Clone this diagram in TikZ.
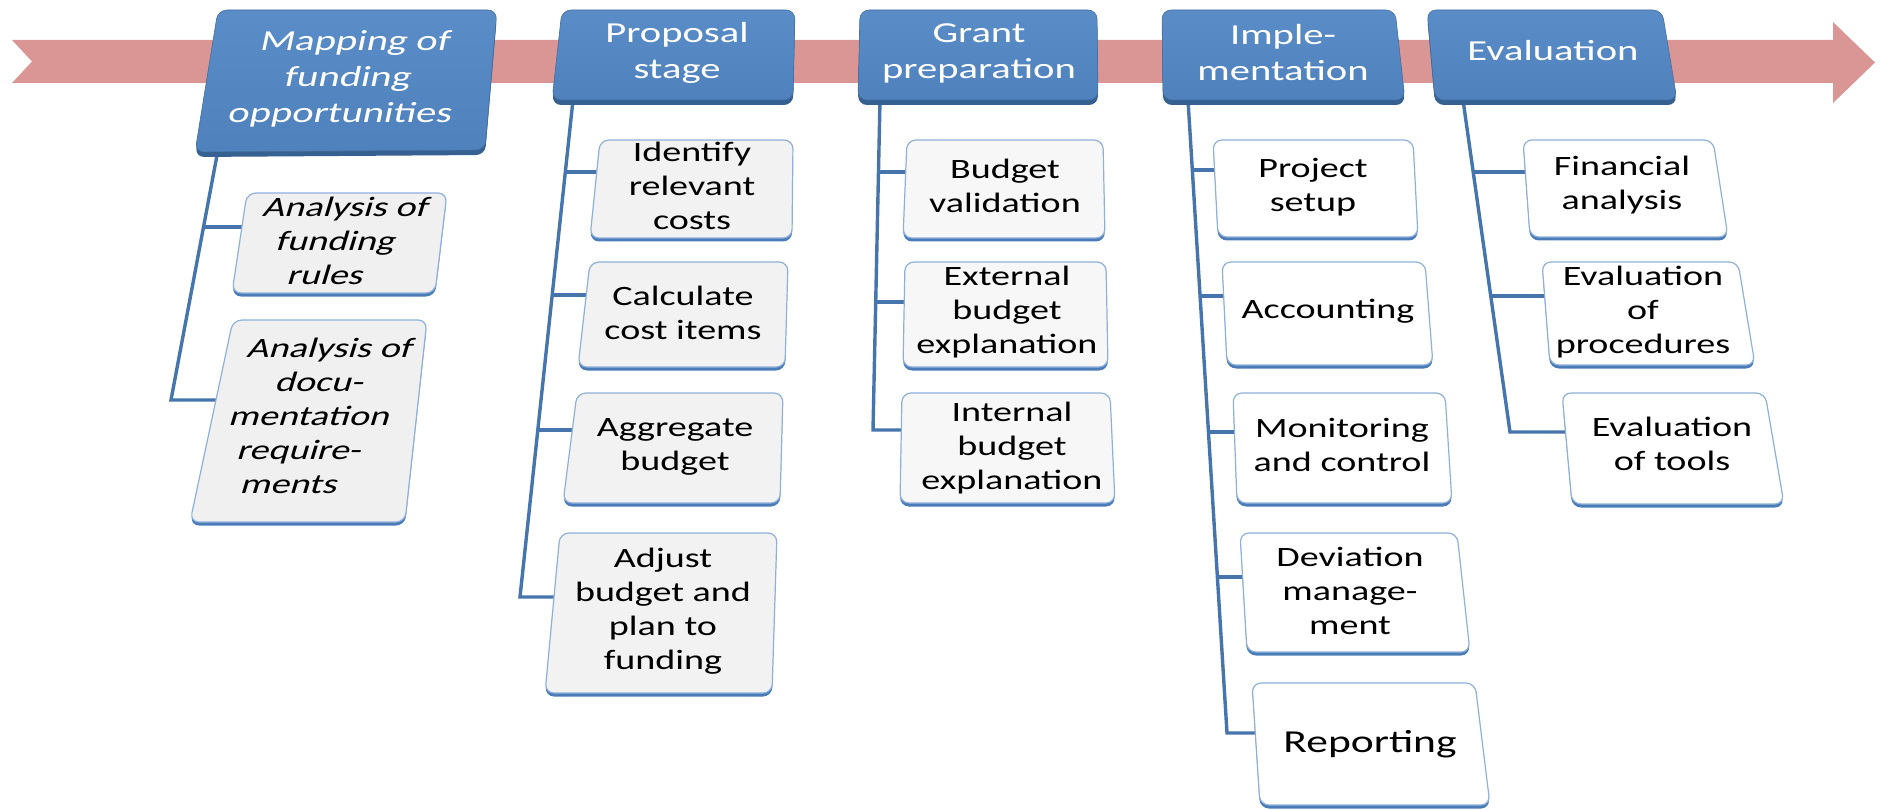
\documentclass[tikz,border=0pt]{standalone}
\usepackage{fontspec}
\setmainfont{Carlito}
\usetikzlibrary{calc}
\definecolor{bandc}{HTML}{D99694}
\definecolor{tblue}{HTML}{4F81BD}
\definecolor{tdark}{HTML}{35608F}
\definecolor{ttop}{HTML}{5A8CC7}
\definecolor{trunkc}{HTML}{4674AD}
\definecolor{cedge}{HTML}{8EB0DA}
\definecolor{cbot}{HTML}{4A7CB8}
\tikzset{
  bandstyle/.style={fill=bandc, draw=none},
  tshadow/.style={fill=tdark, rounded corners=9pt},
  tbody/.style={top color=ttop, bottom color=tblue, draw=tblue!85!black, line width=0.6pt, rounded corners=9pt},
  ttext/.style={text=white, font=\fontsize{29}{36}\selectfont, align=center, xscale=1.4, transform shape, inner sep=0pt},
  cshadow/.style={fill=cbot, rounded corners=9pt},
  cbody/.style={fill=#1, draw=cedge, line width=1.2pt, rounded corners=9pt},
  ctext/.style={font=\fontsize{28}{34}\selectfont, align=center, xscale=1.36, transform shape, inner sep=0pt, text=black},
  trunkline/.style={draw=trunkc, line width=3.4pt},
}
\newcommand\mkbox[6]{%
  \coordinate (#1-tl) at (#2);
  \coordinate (#1-tr) at (#3);
  \coordinate (#1-br) at (#4);
  \coordinate (#1-bl) at (#5);
  \path[cshadow] ([yshift=-3.5pt]#1-tl) -- ([yshift=-3.5pt]#1-tr) -- ([yshift=-3.5pt]#1-br) -- ([yshift=-3.5pt]#1-bl) -- cycle;
  \path[cbody=#6] (#1-tl) -- (#1-tr) -- (#1-br) -- (#1-bl) -- cycle;
}
\newcommand\mktitle[5]{%
  \coordinate (#1-tl) at (#2);
  \coordinate (#1-tr) at (#3);
  \coordinate (#1-br) at (#4);
  \coordinate (#1-bl) at (#5);
  \path[tshadow] ([yshift=-5pt]#1-tl) -- ([yshift=-5pt]#1-tr) -- ([yshift=-5pt]#1-br) -- ([yshift=-5pt]#1-bl) -- cycle;
  \path[tbody] (#1-tl) -- (#1-tr) -- (#1-br) -- (#1-bl) -- cycle;
}
\begin{document}
\begin{tikzpicture}[x=1pt,y=-1pt]
\useasboundingbox (0,0) rectangle (1881,810);
% timeline arrow
\fill[bandstyle] (12,40) -- (1833,40) -- (1833,22) -- (1875,62.5) -- (1833,103) -- (1833,83) -- (12,83) -- (32,61.5) -- cycle;

% trunk coordinates
\coordinate (k1a) at (218,150); \coordinate (k1b) at (171,400);
\coordinate (k2a) at (573,100); \coordinate (k2b) at (520,597);
\coordinate (k3a) at (880,100); \coordinate (k3b) at (873,430);
\coordinate (k4a) at (1188,100); \coordinate (k4b) at (1227,733);
\coordinate (k5a) at (1463,100); \coordinate (k5b) at (1510,432);
% branch points on trunks
\coordinate (j11) at (204.2,227);
\coordinate (j21) at (565.3,172); \coordinate (j22) at (552.2,295); \coordinate (j23) at (537.8,430);
\coordinate (j31) at (878.5,172); \coordinate (j32) at (875.7,302);
\coordinate (j41) at (1192.3,170); \coordinate (j42) at (1200.1,296); \coordinate (j43) at (1208.5,432); \coordinate (j44) at (1217.4,577);
\coordinate (j51) at (1473.2,172); \coordinate (j52) at (1490.8,296);
% box left-edge points
\coordinate (A1w) at (243,227); \coordinate (A2w) at (217,400);
\coordinate (B1w) at (598,172); \coordinate (B2w) at (587,295); \coordinate (B3w) at (573,430); \coordinate (B4w) at (555,597);
\coordinate (C1w) at (906,172); \coordinate (C2w) at (905,302); \coordinate (C3w) at (902,430);
\coordinate (D1w) at (1215,170); \coordinate (D2w) at (1224,296); \coordinate (D3w) at (1235,432); \coordinate (D4w) at (1243,577); \coordinate (D5w) at (1256,733);
\coordinate (E1w) at (1526,172); \coordinate (E2w) at (1545,296); \coordinate (E3w) at (1566,432);

% trunks and branches
\draw[trunkline] (k1a) -- (k1b) -- (A2w);
\draw[trunkline] (j11) -- (A1w);
\draw[trunkline] (k2a) -- (k2b) -- (B4w);
\draw[trunkline] (j21) -- (B1w);
\draw[trunkline] (j22) -- (B2w);
\draw[trunkline] (j23) -- (B3w);
\draw[trunkline] (k3a) -- (k3b) -- (C3w);
\draw[trunkline] (j31) -- (C1w);
\draw[trunkline] (j32) -- (C2w);
\draw[trunkline] (k4a) -- (k4b) -- (D5w);
\draw[trunkline] (j41) -- (D1w);
\draw[trunkline] (j42) -- (D2w);
\draw[trunkline] (j43) -- (D3w);
\draw[trunkline] (j44) -- (D4w);
\draw[trunkline] (k5a) -- (k5b) -- (E3w);
\draw[trunkline] (j51) -- (E1w);
\draw[trunkline] (j52) -- (E2w);

% titles
\mktitle{T1}{218,10}{497,10}{485,150}{195,152}
\mktitle{T2}{562,10}{795,10}{793,100}{552,100}
\mktitle{T3}{860,10}{1097,10}{1098,100}{858,100}
\mktitle{T4}{1162,10}{1395,10}{1405,100}{1163,100}
\mktitle{T5}{1427,10}{1662,10}{1677,100}{1435,100}
\node[ttext, xslant=0.15] (T1n) at (348,79) {Mapping of\\funding\\opportunities};
\node[ttext] (T2n) at (677,53) {Proposal\\stage};
\node[ttext] (T3n) at (979,53) {Grant\\preparation};
\node[ttext] (T4n) at (1283,53) {Imple-\\mentation};
\node[ttext] (T5n) at (1553,51) {Evaluation};

% child boxes
\mkbox{A1}{247,193}{447,193}{435,293}{232,293}{black!6}
\mkbox{A2}{233,320}{427,320}{405,522}{190,522}{black!6}
\mkbox{B1}{600,140}{793,140}{792,238}{590,238}{black!5}
\mkbox{B2}{590,262}{788,262}{785,367}{578,367}{black!5}
\mkbox{B3}{577,393}{783,393}{780,503}{563,503}{black!5}
\mkbox{B4}{560,533}{777,533}{772,693}{545,693}{black!5}
\mkbox{C1}{907,140}{1103,140}{1105,238}{903,238}{black!3}
\mkbox{C2}{905,262}{1106,262}{1108,367}{903,367}{black!3}
\mkbox{C3}{902,393}{1110,393}{1115,503}{900,503}{black!3}
\mkbox{D1}{1213,140}{1413,140}{1418,237}{1218,237}{white}
\mkbox{D2}{1222,262}{1425,262}{1433,365}{1227,365}{white}
\mkbox{D3}{1233,393}{1445,393}{1452,503}{1237,503}{white}
\mkbox{D4}{1240,533}{1457,533}{1470,652}{1247,652}{white}
\mkbox{D5}{1252,683}{1475,683}{1490,805}{1260,805}{white}
\mkbox{E1}{1523,140}{1713,140}{1728,237}{1530,237}{white}
\mkbox{E2}{1542,262}{1738,262}{1755,365}{1550,365}{white}
\mkbox{E3}{1562,393}{1765,393}{1784,504}{1572,504}{white}

\node[ctext, xslant=0.22] (A1) at (337,241) {Analysis of\\funding\\rules};
\node[ctext, xslant=0.22] (A2) at (311,416) {Analysis of\\docu-\\mentation\\require-\\ments};
\node[ctext] (B1) at (692,186) {Identify\\relevant\\costs};
\node[ctext] (B2) at (683,313) {Calculate\\cost items};
\node[ctext] (B3) at (675,447) {Aggregate\\budget};
\node[ctext] (B4) at (663,611) {Adjust\\budget and\\plan to\\funding};
\node[ctext] (C1) at (1005,186) {Budget\\validation};
\node[ctext] (C2) at (1007,312) {External\\budget\\explanation};
\node[ctext] (C3) at (1012,448) {Internal\\budget\\explanation};
\node[ctext] (D1) at (1313,187) {Project\\setup};
\node[ctext] (D2) at (1328,311) {Accounting};
\node[ctext] (D3) at (1342,445) {Monitoring\\and control};
\node[ctext] (D4) at (1350,591) {Deviation\\manage-\\ment};
\node[ctext, font=\fontsize{32}{38}\selectfont] (D5) at (1370,744) {Reporting};
\node[ctext] (E1) at (1622,185) {Financial\\analysis};
\node[ctext] (E2) at (1643,312) {Evaluation\\of\\procedures};
\node[ctext] (E3) at (1672,444) {Evaluation\\of tools};
\end{tikzpicture}
\end{document}
